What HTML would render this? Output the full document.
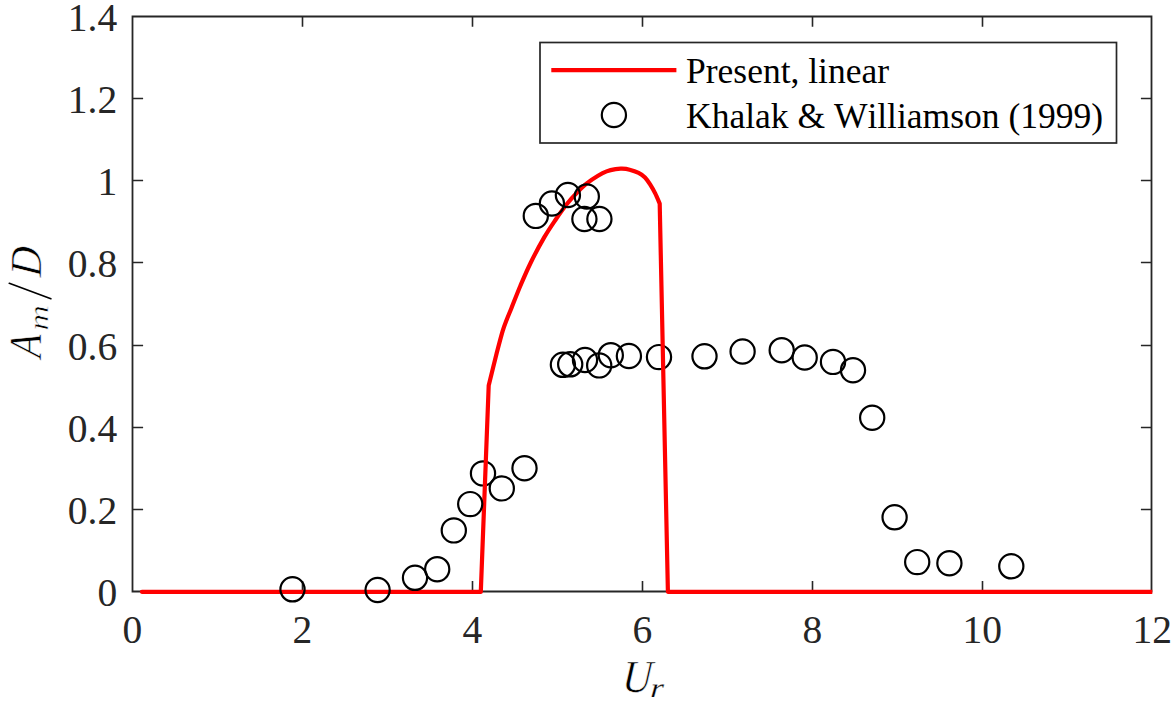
<!DOCTYPE html><html><head><meta charset="utf-8"><style>
html,body{margin:0;padding:0;background:#fff;}
svg{display:block;}
text{font-family:"Liberation Serif",serif;font-kerning:none;}
</style></head><body>
<svg width="1176" height="704" viewBox="0 0 1176 704">
<rect width="1176" height="704" fill="#fff"/>
<defs><clipPath id="ax"><rect x="132.0" y="10.0" width="1020.3" height="590.0"/></clipPath></defs>

<path d="M132.5 16.5H1151.5V591.5H132.5Z" fill="none" stroke="#262626" stroke-width="1.8"/>
<path d="M132.5 509.5H143.1M1151.5 509.5H1140.9M132.5 427.5H143.1M1151.5 427.5H1140.9M132.5 345.5H143.1M1151.5 345.5H1140.9M132.5 262.5H143.1M1151.5 262.5H1140.9M132.5 180.5H143.1M1151.5 180.5H1140.9M132.5 98.5H143.1M1151.5 98.5H1140.9M302.5 591.5V581.1M302.5 16.5V26.7M472.5 591.5V581.1M472.5 16.5V26.7M642.5 591.5V581.1M642.5 16.5V26.7M812.5 591.5V581.1M812.5 16.5V26.7M982.5 591.5V581.1M982.5 16.5V26.7" fill="none" stroke="#262626" stroke-width="1.6"/>
<text x="117.2" y="606.0" font-size="39.5" text-anchor="end" fill="#262626">0</text>
<text x="117.2" y="524.0" font-size="39.5" text-anchor="end" fill="#262626">0.2</text>
<text x="117.2" y="442.0" font-size="39.5" text-anchor="end" fill="#262626">0.4</text>
<text x="117.2" y="360.0" font-size="39.5" text-anchor="end" fill="#262626">0.6</text>
<text x="117.2" y="277.0" font-size="39.5" text-anchor="end" fill="#262626">0.8</text>
<text x="117.2" y="195.0" font-size="39.5" text-anchor="end" fill="#262626">1</text>
<text x="117.2" y="113.0" font-size="39.5" text-anchor="end" fill="#262626">1.2</text>
<text x="117.2" y="31.0" font-size="39.5" text-anchor="end" fill="#262626">1.4</text>
<text x="132.3" y="643.3" font-size="39.5" text-anchor="middle" fill="#262626">0</text>
<text x="302.3" y="643.3" font-size="39.5" text-anchor="middle" fill="#262626">2</text>
<text x="472.3" y="643.3" font-size="39.5" text-anchor="middle" fill="#262626">4</text>
<text x="642.3" y="643.3" font-size="39.5" text-anchor="middle" fill="#262626">6</text>
<text x="812.3" y="643.3" font-size="39.5" text-anchor="middle" fill="#262626">8</text>
<text x="982.3" y="643.3" font-size="39.5" text-anchor="middle" fill="#262626">10</text>
<text x="1152.3" y="643.3" font-size="39.5" text-anchor="middle" fill="#262626">12</text>
<g fill="none" stroke="#000" stroke-width="2.2"><circle cx="483.0" cy="473.4" r="12.1"/><circle cx="659.0" cy="357.1" r="12.1"/></g>
<path d="M141.9 591.8 L480.8 591.8 L488.7 385.5 C490.02 380.18 494.27 362.70 496.60 353.60 C498.93 344.50 501.00 336.58 502.70 330.90 C504.40 325.22 505.35 323.28 506.80 319.50 C508.25 315.72 509.12 313.87 511.40 308.20 C513.68 302.53 517.28 293.08 520.50 285.50 C523.72 277.92 526.75 270.72 530.70 262.70 C534.65 254.68 540.05 244.57 544.20 237.40 C548.35 230.23 551.82 225.27 555.60 219.70 C559.38 214.13 563.35 208.50 566.90 204.00 C570.45 199.50 573.58 196.13 576.90 192.70 C580.22 189.27 583.28 186.22 586.80 183.40 C590.32 180.58 594.70 177.80 598.00 175.80 C601.30 173.80 603.67 172.52 606.60 171.40 C609.53 170.28 613.03 169.55 615.60 169.10 C618.17 168.65 619.67 168.60 622.00 168.70 C624.33 168.80 626.83 169.00 629.60 169.70 C632.37 170.40 636.03 171.62 638.60 172.90 C641.17 174.18 643.08 175.48 645.00 177.40 C646.92 179.32 648.40 181.73 650.10 184.40 C651.80 187.07 653.60 190.20 655.20 193.40 C656.80 196.60 658.95 201.90 659.70 203.60 L667.9 591.8 L1160.0 591.8" fill="none" stroke="#f00" stroke-width="4.2" stroke-linejoin="round" stroke-linecap="round" clip-path="url(#ax)"/>
<g fill="none" stroke="#000" stroke-width="2.2"><circle cx="292.5" cy="589.3" r="12.1"/><circle cx="377.6" cy="590.0" r="12.1"/><circle cx="415.0" cy="577.8" r="12.1"/><circle cx="437.2" cy="569.2" r="12.1"/><circle cx="453.8" cy="530.4" r="12.1"/><circle cx="470.2" cy="504.1" r="12.1"/><circle cx="501.8" cy="488.4" r="12.1"/><circle cx="524.5" cy="468.2" r="12.1"/><circle cx="535.8" cy="215.9" r="12.1"/><circle cx="551.9" cy="203.5" r="12.1"/><circle cx="567.9" cy="195.0" r="12.1"/><circle cx="586.8" cy="196.5" r="12.1"/><circle cx="584.4" cy="219.0" r="12.1"/><circle cx="599.4" cy="219.0" r="12.1"/><circle cx="562.9" cy="364.8" r="12.1"/><circle cx="570.2" cy="364.3" r="12.1"/><circle cx="585.0" cy="360.0" r="12.1"/><circle cx="599.2" cy="365.4" r="12.1"/><circle cx="610.8" cy="355.2" r="12.1"/><circle cx="628.9" cy="356.0" r="12.1"/><circle cx="704.5" cy="356.3" r="12.1"/><circle cx="742.6" cy="351.5" r="12.1"/><circle cx="781.7" cy="350.2" r="12.1"/><circle cx="804.7" cy="357.5" r="12.1"/><circle cx="833.0" cy="361.9" r="12.1"/><circle cx="853.0" cy="370.2" r="12.1"/><circle cx="872.2" cy="417.7" r="12.1"/><circle cx="894.6" cy="517.3" r="12.1"/><circle cx="917.2" cy="562.1" r="12.1"/><circle cx="949.4" cy="563.2" r="12.1"/><circle cx="1011.3" cy="566.3" r="12.1"/></g>
<rect x="540.0" y="42.5" width="576.5" height="100.5" fill="#fff" stroke="#262626" stroke-width="1.7"/>
<path d="M551.3 70.2H676.4" stroke="#f00" stroke-width="4.2"/>
<circle cx="613.9" cy="115.0" r="12.1" fill="none" stroke="#000" stroke-width="2.2"/>
<text x="686.0" y="83.2" font-size="35.5" fill="#000">Present, linear</text>
<text x="686.0" y="127.8" font-size="35.5" fill="#000">Khalak &amp; Williamson (1999)</text>
<g transform="translate(41.00 358.15) rotate(-90) skewX(-4.0) scale(0.850 1)"><text x="0" y="0" font-size="46.0" font-style="italic" fill="#000" stroke="#fff" stroke-width="0.6">A</text></g>
<g transform="translate(48.00 330.70) rotate(-90) skewX(0.0) scale(1.320 1)"><text x="0" y="0" font-size="27.0" font-style="italic" fill="#000" stroke="#fff" stroke-width="0.6">m</text></g>
<g transform="translate(41.00 277.60) rotate(-90) skewX(-5.0) scale(0.930 1)"><text x="0" y="0" font-size="44.5" font-style="italic" fill="#000" stroke="#fff" stroke-width="0.6">D</text></g>
<path d="M9.3 283.3L50.9 298.7" stroke="#000" stroke-width="1.7" stroke-linecap="round"/>
<g transform="translate(621.50 692.30) skewX(-4.0) scale(0.900 1)"><text x="0" y="0" font-size="46.0" font-style="italic" fill="#000" stroke="#fff" stroke-width="0.60">U</text></g>
<g transform="translate(650.00 697.00) skewX(-3.0) scale(1.280 1)"><text x="0" y="0" font-size="27.0" font-style="italic" fill="#000" stroke="#fff" stroke-width="0.25">r</text></g>
</svg></body></html>
